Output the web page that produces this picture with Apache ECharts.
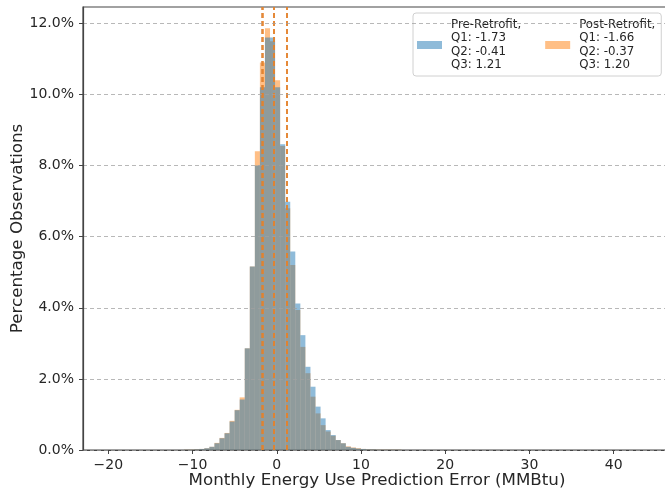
<!DOCTYPE html>
<html>
<head>
<meta charset="utf-8">
<script src="https://cdn.jsdelivr.net/npm/echarts@6/dist/echarts.min.js"></script>
<style>
    html, body { margin: 0; padding: 0; background: #fff; }
    #chart { width: 665px; height: 496px; }
</style>
</head>
<body>
<div id="chart"></div>
<script>
// histogram bins: width 0.6 MMBtu, first bin starts at -11.0
const binStart = -11.0;
const binWidth = 0.6;
// percentage of observations per bin
const preRetrofit = [0.01, 0.01, 0.02, 0.03, 0.05, 0.09, 0.19, 0.33, 0.47, 0.80, 1.12, 1.42, 2.86,
    5.16, 8.00, 10.20, 11.60, 11.60, 10.20, 8.60, 6.98, 5.58, 4.12, 3.23, 2.34, 1.78, 1.22, 0.89,
    0.56, 0.42, 0.28, 0.19, 0.09, 0.06, 0.04, 0.03, 0.02, 0.02, 0.01, 0.01, 0.01, 0.01, 0.01];
const postRetrofit = [0.01, 0.01, 0.02, 0.03, 0.05, 0.09, 0.20, 0.34, 0.48, 0.82, 1.13, 1.48, 2.86,
    5.16, 8.40, 10.90, 11.86, 11.50, 10.40, 8.55, 6.80, 5.20, 3.94, 2.90, 2.16, 1.50, 1.03, 0.70,
    0.52, 0.40, 0.28, 0.19, 0.10, 0.07, 0.05, 0.03, 0.02, 0.02, 0.01, 0.01, 0.01, 0.01, 0.01];
// quartiles [Q1, Q2, Q3]
const preQuartiles = [-1.73, -0.41, 1.21];
const postQuartiles = [-1.66, -0.37, 1.20];
const xTicks = [-20, -10, 0, 10, 20, 30, 40];
const yTicks = [0, 2, 4, 6, 8, 10, 12];

const BLUE = 'rgba(31,119,180,0.5)';
const ORANGE = 'rgba(255,127,14,0.5)';

function toBins(values) {
    return values.map((v, k) => [binStart + k * binWidth, binStart + (k + 1) * binWidth, v]);
}

function renderBar(params, api) {
    const p0 = api.coord([api.value(0), api.value(2)]);
    const p1 = api.coord([api.value(1), 0]);
    return {
        type: 'rect',
        shape: { x: p0[0], y: p0[1], width: p1[0] - p0[0], height: p1[1] - p0[1] },
        style: { fill: api.visual('color') }
    };
}

function quartileLines(qs, color, z) {
    return {
        silent: true,
        symbol: 'none',
        z: z,
        label: { show: false },
        lineStyle: { color: color, type: [5, 3], width: 1.5, opacity: 1 },
        data: qs.map(q => ({ xAxis: q }))
    };
}

const legendText = {
    'Pre-Retrofit': 'Pre-Retrofit,\nQ1: ' + preQuartiles[0].toFixed(2) + '\nQ2: ' + preQuartiles[1].toFixed(2) + '\nQ3: ' + preQuartiles[2].toFixed(2),
    'Post-Retrofit': 'Post-Retrofit,\nQ1: ' + postQuartiles[0].toFixed(2) + '\nQ2: ' + postQuartiles[1].toFixed(2) + '\nQ3: ' + postQuartiles[2].toFixed(2)
};

const font = 'DejaVu Sans';
const myChart = echarts.init(document.getElementById('chart'));

const option = {
    animation: false,
    grid: {
        left: 83,
        right: -6,
        top: 7,
        bottom: 46,
        outerBoundsMode: 'none',
        containLabel: false,
        show: true,
        borderColor: '#444',
        borderWidth: 1.2,
        backgroundColor: 'transparent'
    },
    legend: {
        data: ['Pre-Retrofit', 'Post-Retrofit'],
        left: 413,
        top: 13,
        orient: 'horizontal',
        icon: 'rect',
        itemWidth: 25,
        itemHeight: 8,
        itemGap: 24,
        padding: [5, 6, 4, 4],
        borderColor: '#d0d0d0',
        borderWidth: 1,
        borderRadius: 3,
        formatter: name => legendText[name],
        textStyle: {
            fontFamily: font,
            fontSize: 11.8,
            lineHeight: 13.5,
            color: '#262626',
            padding: [0, 0, 0, 4]
        }
    },
    xAxis: {
        type: 'value',
        min: -23.0,
        max: 46.8,
        name: 'Monthly Energy Use Prediction Error (MMBtu)',
        nameLocation: 'middle',
        nameGap: 22,
        nameMoveOverlap: false,
        nameTextStyle: { fontFamily: font, fontSize: 16.7, color: '#262626' },
        axisLine: { show: true, onZero: false, lineStyle: { color: '#444', width: 1.2 } },
        axisTick: { show: true, length: 4, customValues: xTicks, lineStyle: { color: '#444' } },
        axisLabel: {
            customValues: xTicks,
            margin: 8,
            fontFamily: font,
            fontSize: 14,
            color: '#262626',
            formatter: v => (v < 0 ? '\u2212' + Math.abs(v) : String(v))
        },
        splitLine: { show: false }
    },
    yAxis: {
        type: 'value',
        min: 0,
        max: 12.46,
        z: 10,
        name: 'Percentage Observations',
        nameLocation: 'middle',
        nameGap: 57,
        nameMoveOverlap: false,
        nameTextStyle: { fontFamily: font, fontSize: 16.7, color: '#262626' },
        axisLine: { show: true, onZero: false, lineStyle: { color: '#444', width: 1.2 } },
        axisTick: { show: true, length: 4, customValues: yTicks, lineStyle: { color: '#444' } },
        axisLabel: {
            customValues: yTicks,
            margin: 9,
            fontFamily: font,
            fontSize: 14,
            color: '#262626',
            formatter: v => v.toFixed(1) + '%'
        },
        splitLine: { show: true, lineStyle: { color: 'rgba(160,160,160,0.75)', type: [4, 3], width: 1 } }
    },
    series: [
        {
            name: 'Post-Retrofit',
            type: 'custom',
            z: 2,
            renderItem: renderBar,
            itemStyle: { color: ORANGE },
            encode: { x: [0, 1], y: 2 },
            data: toBins(postRetrofit),
            markLine: quartileLines(postQuartiles, '#e8822a', 6)
        },
        {
            name: 'Pre-Retrofit',
            type: 'custom',
            z: 3,
            renderItem: renderBar,
            itemStyle: { color: BLUE },
            encode: { x: [0, 1], y: 2 },
            data: toBins(preRetrofit),
            markLine: quartileLines(preQuartiles, '#d9823a', 5)
        }
    ]
};

myChart.setOption(option);
</script>
</body>
</html>
